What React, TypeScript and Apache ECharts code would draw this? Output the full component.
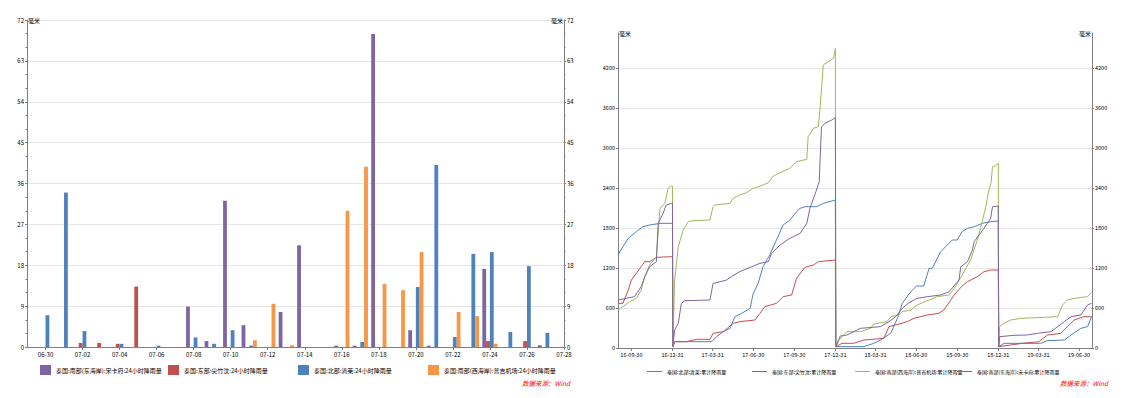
import React, { useEffect, useRef } from 'react';
import * as echarts from 'echarts';

// ---------- Left chart: daily rainfall (mm) ----------
const days = ['06-29', '06-30', '07-01', '07-02', '07-03', '07-04', '07-05', '07-06', '07-07', '07-08',
  '07-09', '07-10', '07-11', '07-12', '07-13', '07-14', '07-15', '07-16', '07-17', '07-18',
  '07-19', '07-20', '07-21', '07-22', '07-23', '07-24', '07-25', '07-26', '07-27', '07-28'];

const _ = null;
const songkhlaDaily = [_, _, _, _, _, _, _, _, _, 8.9, 1.3, 32.2, 4.8, _, 7.7, 22.4, _, 0.3, 0.3, 68.9, _, 3.7, 0.3, _, _, 17.2, _, _, 0.4, _];
const eastDaily = [_, _, _, 0.9, 0.9, 0.7, 13.3, _, _, _, _, _, _, _, _, _, _, _, _, _, _, _, _, _, _, 1.3, _, 1.3, _, _];
const chiangraiDaily = [_, 7, 34, 3.5, _, 0.7, _, 0.3, _, 2.1, 0.7, 3.7, 0.3, _, _, _, _, _, 1.1, _, _, 13.2, 40.1, 2.2, 20.5, 20.9, 3.3, 17.8, 3.1, _];
const phuketDaily = [_, _, _, _, _, _, _, _, _, _, _, _, 1.5, 9.5, 0.4, _, _, 30, 39.7, 13.9, 12.5, 20.9, _, 7.7, 6.8, 0.7, _, _, _, _];

const leftNames = [
  '泰国:南部(东海岸):宋卡府:24小时降雨量',
  '泰国:东部:尖竹汶:24小时降雨量',
  '泰国:北部:清莱:24小时降雨量',
  '泰国:南部(西海岸):普吉机场:24小时降雨量',
];

// ---------- Right chart: cumulative rainfall (mm) ----------
const quarterLabels = ['2016-09-30', '2016-12-31', '2017-03-31', '2017-06-30', '2017-09-30', '2017-12-31',
  '2018-03-31', '2018-06-30', '2018-09-30', '2018-12-31', '2019-03-31', '2019-06-30'];

const chiangraiCum: [string, number][] = [
  ['2016-08-31', 1395], ['2016-09-11', 1520], ['2016-09-23', 1645], ['2016-10-11', 1745], ['2016-10-26', 1820], ['2016-11-10', 1845], ['2016-12-03', 1870], ['2016-12-31', 1870],
  ['2017-01-01', 20], ['2017-01-05', 95], ['2017-03-29', 95], ['2017-04-09', 170], ['2017-04-24', 245], ['2017-05-09', 295], ['2017-05-20', 470], ['2017-06-04', 520], ['2017-06-23', 595], ['2017-06-30', 820], ['2017-07-11', 970], ['2017-07-22', 1220], ['2017-08-06', 1395], ['2017-08-21', 1620], ['2017-09-05', 1845], ['2017-09-20', 1920], ['2017-10-05', 2045], ['2017-10-13', 2095], ['2017-10-24', 2120], ['2017-11-19', 2120], ['2017-12-04', 2170], ['2017-12-31', 2220],
  ['2018-01-01', 20], ['2018-03-05', 20], ['2018-03-27', 70], ['2018-04-11', 120], ['2018-05-04', 220], ['2018-05-19', 445], ['2018-05-30', 670], ['2018-06-18', 845], ['2018-07-01', 930], ['2018-07-17', 930], ['2018-07-29', 1195], ['2018-08-05', 1195], ['2018-08-24', 1445], ['2018-09-08', 1545], ['2018-09-19', 1620], ['2018-09-30', 1620], ['2018-10-11', 1745], ['2018-10-23', 1795], ['2018-11-07', 1820], ['2018-11-25', 1870], ['2018-12-14', 1895], ['2018-12-31', 1905],
  ['2019-01-01', 20], ['2019-01-13', 70], ['2019-04-05', 70], ['2019-04-20', 110], ['2019-05-28', 120], ['2019-06-12', 195], ['2019-07-04', 295], ['2019-07-19', 320], ['2019-07-28', 470],
];
const eastCum: [string, number][] = [
  ['2016-08-31', 670], ['2016-09-11', 670], ['2016-09-23', 870], ['2016-09-30', 1020], ['2016-10-11', 1120], ['2016-10-22', 1220], ['2016-10-30', 1295], ['2016-11-10', 1295], ['2016-11-25', 1360], ['2016-12-31', 1370],
  ['2017-01-01', 20], ['2017-01-05', 95], ['2017-01-31', 95], ['2017-02-23', 130], ['2017-03-25', 130], ['2017-04-01', 220], ['2017-04-24', 245], ['2017-05-16', 370], ['2017-05-31', 395], ['2017-07-04', 420], ['2017-07-15', 520], ['2017-07-26', 620], ['2017-08-21', 670], ['2017-09-05', 770], ['2017-09-24', 795], ['2017-10-05', 1045], ['2017-10-24', 1210], ['2017-11-12', 1245], ['2017-11-23', 1295], ['2017-12-31', 1320],
  ['2018-01-01', 20], ['2018-01-15', 70], ['2018-02-10', 70], ['2018-03-05', 120], ['2018-04-19', 145], ['2018-04-30', 320], ['2018-05-15', 345], ['2018-06-10', 395], ['2018-06-25', 445], ['2018-07-25', 495], ['2018-08-20', 520], ['2018-08-31', 570], ['2018-09-08', 645], ['2018-09-23', 795], ['2018-10-11', 930], ['2018-10-23', 995], ['2018-11-14', 1070], ['2018-11-29', 1145], ['2018-12-14', 1170], ['2018-12-31', 1170],
  ['2019-01-01', 20], ['2019-01-28', 45], ['2019-02-23', 70], ['2019-04-01', 95], ['2019-04-20', 195], ['2019-05-20', 220], ['2019-06-04', 320], ['2019-06-19', 420], ['2019-07-11', 470], ['2019-07-28', 470],
];
const phuketCum: [string, number][] = [
  ['2016-08-31', 570], ['2016-09-11', 620], ['2016-09-26', 695], ['2016-10-11', 745], ['2016-10-22', 870], ['2016-10-30', 1070], ['2016-11-10', 1245], ['2016-11-25', 1370], ['2016-12-03', 2095], ['2016-12-14', 2170], ['2016-12-21', 2395], ['2016-12-29', 2430], ['2016-12-31', 2430],
  ['2017-01-01', 20], ['2017-01-02', 320], ['2017-01-05', 1020], ['2017-01-13', 1520], ['2017-01-24', 1770], ['2017-02-04', 1895], ['2017-02-15', 1910], ['2017-03-25', 1920], ['2017-04-01', 2120], ['2017-04-05', 2145], ['2017-05-09', 2170], ['2017-05-16', 2245], ['2017-05-31', 2295], ['2017-06-15', 2330], ['2017-06-30', 2395], ['2017-07-22', 2445], ['2017-08-03', 2480], ['2017-08-14', 2580], ['2017-08-29', 2630], ['2017-09-20', 2695], ['2017-10-05', 2795], ['2017-10-28', 2830], ['2017-10-31', 3170], ['2017-11-12', 3295], ['2017-11-23', 3320], ['2017-11-27', 3620], ['2017-12-04', 4245], ['2017-12-15', 4295], ['2017-12-27', 4345], ['2017-12-31', 4495],
  ['2018-01-01', 20], ['2018-01-08', 120], ['2018-01-26', 245], ['2018-02-25', 245], ['2018-03-20', 295], ['2018-03-27', 360], ['2018-04-26', 395], ['2018-05-04', 470], ['2018-05-22', 495], ['2018-05-30', 545], ['2018-06-18', 570], ['2018-07-02', 645], ['2018-07-25', 710], ['2018-08-16', 770], ['2018-09-12', 795], ['2018-09-26', 920], ['2018-10-11', 1095], ['2018-10-30', 1320], ['2018-11-14', 1620], ['2018-11-25', 1895], ['2018-12-03', 2120], ['2018-12-10', 2370], ['2018-12-15', 2480], ['2018-12-18', 2720], ['2018-12-25', 2735], ['2018-12-31', 2770],
  ['2019-01-01', 20], ['2019-01-03', 320], ['2019-01-13', 370], ['2019-01-28', 420], ['2019-02-19', 445], ['2019-04-13', 460], ['2019-05-13', 470], ['2019-05-24', 645], ['2019-06-04', 720], ['2019-06-19', 745], ['2019-07-19', 770], ['2019-07-28', 830],
];
const songkhlaCum: [string, number][] = [
  ['2016-08-31', 720], ['2016-09-19', 745], ['2016-10-07', 770], ['2016-10-22', 920], ['2016-10-30', 1070], ['2016-11-10', 1220], ['2016-11-25', 1295], ['2016-11-29', 1870], ['2016-12-10', 2020], ['2016-12-17', 2145], ['2016-12-29', 2170], ['2016-12-31', 2170],
  ['2017-01-01', 20], ['2017-01-05', 270], ['2017-01-13', 370], ['2017-01-20', 670], ['2017-01-28', 710], ['2017-03-25', 720], ['2017-04-01', 970], ['2017-04-09', 980], ['2017-05-01', 1020], ['2017-05-12', 1070], ['2017-05-31', 1145], ['2017-06-23', 1210], ['2017-07-15', 1270], ['2017-08-03', 1295], ['2017-08-10', 1420], ['2017-08-29', 1545], ['2017-09-20', 1645], ['2017-09-28', 1670], ['2017-10-13', 1720], ['2017-10-28', 1870], ['2017-11-04', 2095], ['2017-11-15', 2295], ['2017-11-25', 2500], ['2017-11-27', 2870], ['2017-11-30', 3320], ['2017-12-08', 3370], ['2017-12-23', 3420], ['2017-12-31', 3455],
  ['2018-01-01', 20], ['2018-01-11', 180], ['2018-01-26', 195], ['2018-02-25', 295], ['2018-04-11', 320], ['2018-04-30', 395], ['2018-05-15', 470], ['2018-05-30', 595], ['2018-06-14', 680], ['2018-07-02', 745], ['2018-07-25', 770], ['2018-08-24', 795], ['2018-09-12', 845], ['2018-10-04', 1020], ['2018-10-08', 1220], ['2018-10-23', 1295], ['2018-11-03', 1470], ['2018-11-07', 1595], ['2018-11-18', 1695], ['2018-11-29', 1795], ['2018-12-14', 1945], ['2018-12-18', 2120], ['2018-12-31', 2130],
  ['2019-01-01', 20], ['2019-01-03', 170], ['2019-02-04', 190], ['2019-03-06', 195], ['2019-03-29', 220], ['2019-04-28', 245], ['2019-05-28', 395], ['2019-06-12', 470], ['2019-07-04', 495], ['2019-07-19', 645], ['2019-07-28', 670],
];

const rightNames = [
  '泰国:北部:清莱:累计降雨量',
  '泰国:东部:尖竹汶:累计降雨量',
  '泰国:南部(西海岸):普吉机场:累计降雨量',
  '泰国:南部(东海岸):宋卡府:累计降雨量',
];

const PURPLE = '#8064A2';
const RED = '#C0504D';
const BLUE = '#4F81BD';
const ORANGE = '#F79646';
const GREEN = '#9BBB59';
const AXIS = '#808080';
const GRID = '#e6e6e6';
const FONT = '"Noto Sans CJK SC", "Noto Sans", sans-serif';

function ts(s: string): number {
  const [y, m, d] = s.split('-').map(Number);
  return Date.UTC(y, m - 1, d);
}
function pad(n: number) { return n < 10 ? '0' + n : '' + n; }

export default function App() {
  const ref = useRef<HTMLDivElement>(null);
  useEffect(() => {
    const chart = echarts.init(ref.current!, null, { renderer: 'svg' });
    const oddIdx = (i: number) => i % 2 === 1;
    const labelStyle = { fontSize: 6, color: '#000', fontFamily: FONT };
    const nameStyleL = { fontSize: 6, color: '#000', fontFamily: FONT, align: 'left', verticalAlign: 'middle', padding: [0, 0, 0, 1] };
    const nameStyleR = { fontSize: 6, color: '#000', fontFamily: FONT, align: 'right', verticalAlign: 'middle', padding: [0, 1, 0, 0] };
    const quarterTs = quarterLabels.map(ts);

    const leftY = (pos: 'left' | 'right', split: boolean) => ({
      type: 'value', gridIndex: 0, position: pos, min: 0, max: 72, interval: 9,
      name: '毫米', nameLocation: 'end', nameGap: 0,
      nameTextStyle: pos === 'left' ? nameStyleL : nameStyleR,
      axisLine: { show: true, lineStyle: { color: AXIS, width: 1 } },
      axisTick: { show: true, length: 2, lineStyle: { color: AXIS } },
      minorTick: { show: true, splitNumber: 3, length: 1.5, lineStyle: { color: AXIS } },
      axisLabel: { ...labelStyle, margin: 3 },
      splitLine: { show: split, lineStyle: { color: GRID, width: 1 } },
    });
    const rightY = (pos: 'left' | 'right', split: boolean) => ({
      type: 'value', gridIndex: 1, position: pos, min: 0, max: 4725, interval: 600,
      name: '毫米', nameLocation: 'end', nameGap: 0,
      nameTextStyle: pos === 'left' ? nameStyleL : nameStyleR,
      axisLine: { show: true, lineStyle: { color: AXIS, width: 1 } },
      axisTick: { show: true, length: 2, lineStyle: { color: AXIS } },
      axisLabel: { ...labelStyle, fontSize: 5.5, margin: 3, showMaxLabel: false, formatter: (v: number) => String(v) },
      splitLine: { show: split, lineStyle: { color: [GRID, GRID, GRID, GRID, GRID, GRID, GRID, GRID, 'rgba(0,0,0,0)'], width: 1 } },
    });

    const barSeries = [songkhlaDaily, eastDaily, chiangraiDaily, phuketDaily].map((d, i) => ({
      name: leftNames[i], type: 'bar', xAxisIndex: 0, yAxisIndex: 0, data: d,
      barWidth: 3.8, barGap: '0%', itemStyle: { color: [PURPLE, RED, BLUE, ORANGE][i] },
    }));
    const lineSeries = [chiangraiCum, eastCum, phuketCum, songkhlaCum].map((d, i) => ({
      name: rightNames[i], type: 'line', xAxisIndex: 1, yAxisIndex: 2,
      data: d.map(([dt, v]) => [ts(dt), v]),
      symbol: 'none', showSymbol: false,
      lineStyle: { width: 1, color: [BLUE, RED, GREEN, PURPLE][i] },
      itemStyle: { color: [BLUE, RED, GREEN, PURPLE][i] },
    }));

    const leftLegendX = [40, 168, 298, 428];
    const rightLegendX = [647, 752, 855, 957];
    const legends = [
      ...leftNames.map((n, i) => ({
        left: leftLegendX[i], top: 365, padding: 0, itemWidth: 11, itemHeight: 10, icon: 'rect',
        data: [n], textStyle: { ...labelStyle }, selectedMode: false,
      })),
      ...rightNames.map((n, i) => ({
        left: rightLegendX[i], top: 369, padding: 0, itemWidth: 15, itemHeight: 1, icon: 'rect',
        data: [n], textStyle: { ...labelStyle, fontSize: 5 }, selectedMode: false,
      })),
    ];

    chart.setOption({
      animation: false,
      backgroundColor: '#fff',
      grid: [
        { left: 27, top: 20, width: 537, height: 327 },
        { left: 618, top: 33, width: 474, height: 315 },
      ],
      xAxis: [
        {
          type: 'category', gridIndex: 0, data: days, boundaryGap: false,
          axisLine: { lineStyle: { color: AXIS } },
          axisTick: { interval: oddIdx, length: 3, lineStyle: { color: AXIS } },
          axisLabel: { ...labelStyle, interval: oddIdx, margin: 4 },
          splitLine: { show: false },
        },
        {
          type: 'value', gridIndex: 1, min: ts('2016-08-31'), max: ts('2019-07-29'),
          axisLine: { lineStyle: { color: AXIS } },
          axisTick: { show: true, length: 3, lineStyle: { color: AXIS }, customValues: quarterTs },
          axisLabel: {
            ...labelStyle, fontSize: 5.5, margin: 4, customValues: quarterTs, hideOverlap: false,
            formatter: (v: number) => {
              const d = new Date(v);
              return `${pad(d.getUTCFullYear() % 100)}-${pad(d.getUTCMonth() + 1)}-${pad(d.getUTCDate())}`;
            },
          },
          splitLine: { show: false },
        },
      ],
      yAxis: [leftY('left', true), leftY('right', false), rightY('left', true), rightY('right', false)],
      legend: legends,
      graphic: [
        { type: 'text', left: 522, top: 380, style: { text: '数据来源：Wind', fill: '#ff0000', font: 'italic 6.5px ' + FONT } },
        { type: 'text', left: 1060, top: 380, style: { text: '数据来源：Wind', fill: '#ff0000', font: 'italic 6.5px ' + FONT } },
      ],
      series: [...barSeries, ...lineSeries],
    });
    return () => chart.dispose();
  }, []);
  return <div ref={ref} style={{ position: 'absolute', left: 0, top: 0, width: 1132, height: 398 }} />;
}
